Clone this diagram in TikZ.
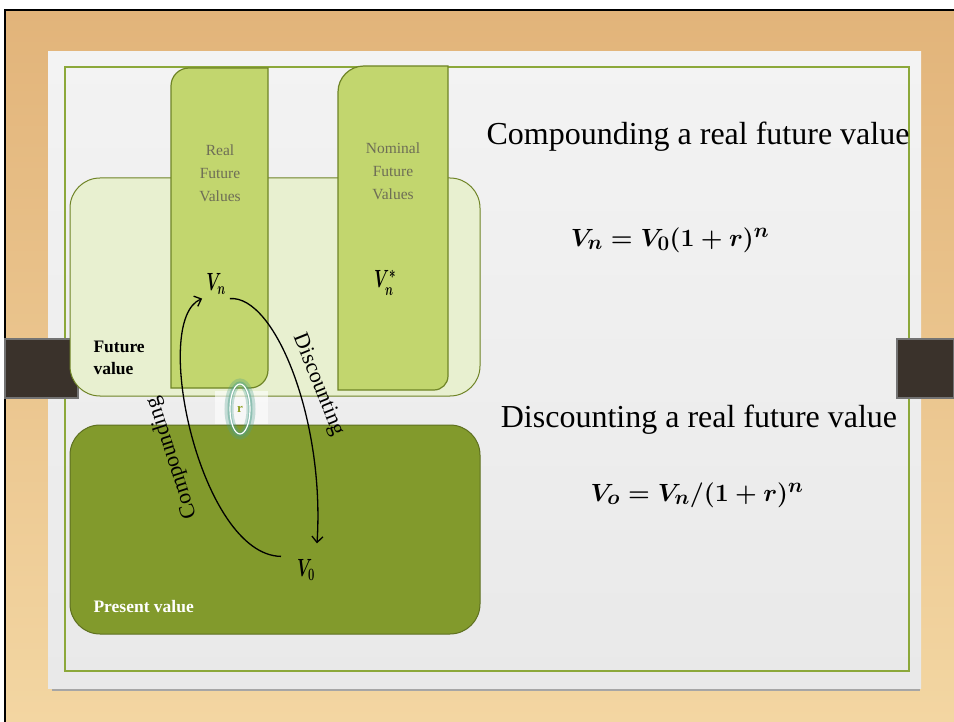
\documentclass[tikz,border=0pt]{standalone}
\usepackage{amsmath, amssymb}
\usepackage{fontspec}
\setmainfont{Liberation Serif}
\usetikzlibrary{positioning,arrows.meta,shapes.geometric}
\definecolor{woodtop}{HTML}{E2B47A}
\definecolor{woodbot}{HTML}{F3D6A2}
\definecolor{slide}{HTML}{F3F3F3}
\definecolor{slidebot}{HTML}{E9E9E9}
\definecolor{frame}{HTML}{8CA83A}
\definecolor{olive}{HTML}{6F8426}
\definecolor{pale}{HTML}{E8F0D0}
\definecolor{colfill}{HTML}{C2D66E}
\definecolor{deep}{HTML}{829A2C}
\definecolor{tab}{HTML}{3A322B}
\definecolor{greylbl}{HTML}{6E6E56}
\definecolor{glowc}{HTML}{4FA08A}
\tikzset{
  woodbg/.style={top color=woodtop, bottom color=woodbot, draw=none},
  slidebox/.style={top color=slide, bottom color=slidebot, draw=none},
  tabbox/.style={fill=tab, draw=black!55, line width=1.2pt},
  valuebox/.style={fill=pale, draw=olive, line width=1pt, rounded corners=30pt},
  valuebox2/.style={fill=deep, draw=olive!85!black, line width=1pt, rounded corners=30pt},
  colbox/.style={fill=colfill, draw=olive, line width=1.2pt},
  collabel/.style={align=center, text=greylbl, font=\fontsize{15.5}{23}\selectfont},
  boxlabel/.style={align=left, anchor=west, font=\bfseries\fontsize{17.5}{22}\selectfont},
  vlabel/.style={inner sep=4pt, font=\boldmath\fontsize{25}{25}\selectfont},
  bendarrow/.style={-{Straight Barb[length=6pt,width=11pt]}, line width=1.3pt},
  turnlabel/.style={font=\fontsize{22}{22}\selectfont},
  heading/.style={font=\fontsize{32}{36}\selectfont},
  formula/.style={font=\fontsize{28.5}{30}\selectfont}
}
\begin{document}
\begin{tikzpicture}[x=1pt, y=-1pt, >=Latex, every node/.style={font=\small}]
  \useasboundingbox (0,0) rectangle (954,722);
  % wood and slide
  \fill[white] (0,0) rectangle (954,722);
  \path[woodbg] (5,10) rectangle (954,722);
  \draw[black, line width=1.5pt] (5,722) -- (5,10) -- (954,10);
  \fill[black!35] (52,686) rectangle (920,691);
  \path[slidebox] (48,52) rectangle (921,688);
  \draw[frame, line width=1.6pt] (65,67) rectangle (909,671);
  % side tabs
  \path[tabbox] (5,339) rectangle (78,398);
  \path[tabbox] (897,339) rectangle (954,398);
  % future value box and columns
  \path[valuebox] (70,178) rectangle (480,396);
  \path[colbox] (171,388) [rounded corners=18pt] -- (171,68) [sharp corners] -- (268,68)
    [rounded corners=18pt] -- (268,388) [sharp corners] -- cycle;
  \path[colbox] (338,390) [rounded corners=26pt] -- (338,66) [sharp corners] -- (448,66)
    [rounded corners=14pt] -- (448,390) [sharp corners] -- cycle;
  % present value box
  \path[valuebox2] (70,425) rectangle (480,634);
  % rate
  \fill[white, opacity=0.6] (215,391) rectangle (268,424);
  \node[ellipse, draw=glowc, line width=9pt, opacity=0.3, minimum width=22pt, minimum height=52pt] (glow) at (240,409) {};
  \node[ellipse, draw=glowc, line width=4pt, opacity=0.45, minimum width=21pt, minimum height=51pt] (glow2) at (240,409) {};
  \node[ellipse, draw=white, line width=1.2pt, minimum width=20pt, minimum height=50pt,
        text=olive!80!yellow, font=\bfseries\fontsize{13}{13}\selectfont] (rate) at (240,409) {r};
  % labels
  \node[collabel] (real) at (220,173) {Real\\Future\\Values};
  \node[collabel] (nominal) at (393,171) {Nominal\\Future\\Values};
  \node[boxlabel] (fv) at (90,358) {Future\\value};
  \node[boxlabel, text=white] (pv) at (90,607) {Present value};
  \node[vlabel] (vn) at (216,284) {\scalebox{0.65}[1]{$V_n$}};
  \node[vlabel] (vstar) at (385,283) {\scalebox{0.65}[1]{$V_n^{*}$}};
  \node[vlabel] (v0) at (306,570) {\scalebox{0.65}[1]{$V_0$}};
  % compounding and discounting
  \draw[bendarrow] ([xshift=-12pt, yshift=-1pt]v0.north west) .. controls (200,555) and (150,320) .. (vn.south west);
  \draw[bendarrow] (vn.south east) .. controls (275,295) and (325,420) .. ([xshift=-2pt, yshift=12pt]v0.north east);
  \node[turnlabel, rotate=108] (comp) at (172,458) {Compounding};
  \node[turnlabel, rotate=-68] (disc) at (318,385) {Discounting};
  % right side
  \node[heading] (comphead) at (698,137) {Compounding a real future value};
  \node[formula] (compeq) at (670,240) {$\boldsymbol{V_n = V_0(1+r)^n}$};
  \node[heading] (dischead) at (699,420) {Discounting a real future value};
  \node[formula] (disceq) at (697,495) {$\boldsymbol{V_o = V_n/(1+r)^n}$};
\end{tikzpicture}
\end{document}
